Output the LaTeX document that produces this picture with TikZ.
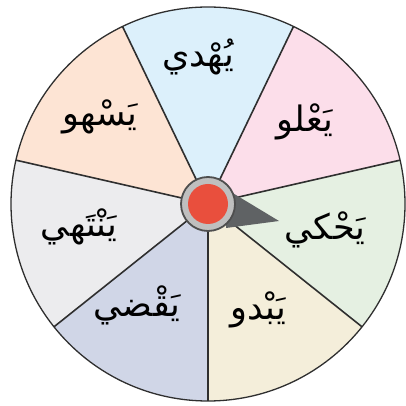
\documentclass[tikz,border=0pt]{standalone}
\usepackage{fontspec}
\newfontfamily\arabicfont[Script=Arabic]{DejaVu Sans}
\TeXXeTstate=1
\definecolor{rim}{HTML}{2F2F2F}
\definecolor{cream}{HTML}{F4EEDA}
\definecolor{mint}{HTML}{E5F0E2}
\definecolor{rose}{HTML}{FCDEEA}
\definecolor{sky}{HTML}{DCF0FB}
\definecolor{peach}{HTML}{FDE4D4}
\definecolor{mist}{HTML}{ECECEE}
\definecolor{lilac}{HTML}{D0D6E7}
\definecolor{needle}{HTML}{5F6264}
\definecolor{knobred}{HTML}{E94F3D}
\tikzset{
  wedge/.style={fill=#1},
  spoke/.style={draw=rim, line width=1.6pt},
  word/.style={font=\arabicfont\fontsize{35}{40}\selectfont, inner sep=0pt},
  hub/.style={circle, draw=#1, line width=1.8pt, fill=gray!50, minimum size=54pt, inner sep=0pt},
  knob/.style={circle, fill=#1, minimum size=40pt, inner sep=0pt}
}
\begin{document}
\begin{tikzpicture}[x=1pt,y=1pt]
\useasboundingbox (0,0) rectangle (405,406);

\def\R{197}
\coordinate (C) at (208,202);

% Sectors (drawn first)
\foreach \i/\col in {0/cream,1/mint,2/rose,3/sky,4/peach,5/mist,6/lilac} {
  \pgfmathsetmacro{\a}{-90+\i*360/7}
  \pgfmathsetmacro{\b}{\a+360/7}
  \fill[wedge=\col] (C) -- ++(\a:\R) arc[start angle=\a, end angle=\b, radius=\R] -- cycle;
}

% Spokes and rim
\foreach \i in {0,...,6} {
  \draw[spoke] (C) -- ++({-90+\i*360/7}:\R);
}
\draw[rim, line width=1.3pt] (C) circle[radius=\R];

% Words
\node[word] (yahdi)   at ([shift={(-10,147)}]C)  {\beginR يُهْدي\endR};
\node[word] (yalu)    at ([shift={(97,82)}]C)    {\beginR يَعْلو\endR};
\node[word] (yahki)   at ([shift={(117,-26)}]C)  {\beginR يَحْكي\endR};
\node[word] (yabdu)   at ([shift={(50,-106)}]C)  {\beginR يَبْدو\endR};
\node[word] (yaqdi)   at ([shift={(-71,-101)}]C) {\beginR يَقْضي\endR};
\node[word] (yantahi) at ([shift={(-129,-23)}]C) {\beginR يَنْتَهي\endR};
\node[word] (yashu)   at ([shift={(-108,87)}]C)  {\beginR يَسْهو\endR};

% Pointer (under the hub)
\fill[needle] ([shift={(18,15)}]C) -- ([shift={(71,-17)}]C) -- ([shift={(18,-24)}]C) -- cycle;

% Hub (on top)
\node[hub=rim!85] (hub) at (C) {};
\node[knob=knobred] (knob) at (C) {};

\end{tikzpicture}
\end{document}
